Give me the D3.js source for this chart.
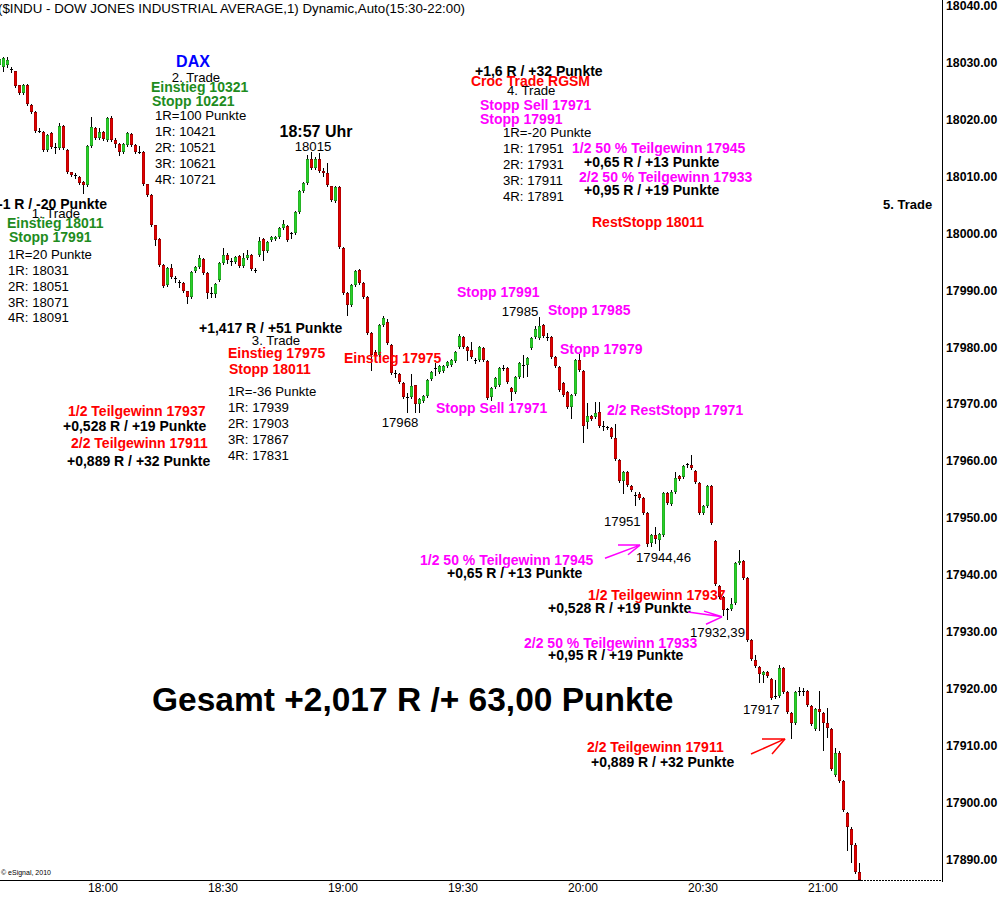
<!DOCTYPE html>
<html><head><meta charset="utf-8">
<script src="https://cdn.jsdelivr.net/npm/d3@7"></script>
<style>
body{margin:0;background:#fff;}
svg{display:block;}
text{font-family:"Liberation Sans",Arial,sans-serif;}
</style>
</head><body>
<svg id="chart" width="1001" height="899"></svg>
<script>
// ---------- DATA ----------
const firstBar = "17:34";           // one bar per minute from here
const opens = [
18029.6,18029.3,18029.6,18028.9,18028.5,18026.1,18024.8,18026.1,18022.6,18021.4,
18018.1,18017.9,18014.7,18017.7,18015.3,18015.0,18018.9,18014.7,18010.8,18010.3,
18010.0,18009.1,18008.5,18015.4,18018.5,18016.8,18017.9,18016.5,18020.3,18016.4,
18015.8,18014.4,18015.6,18017.5,18015.6,18014.4,18014.4,18008.7,18006.8,18001.5,
17999.1,17994.5,17991.0,17994.0,17992.2,17991.5,17991.4,17989.9,17988.9,17993.5,
17994.2,17995.6,17993.1,17989.6,17989.4,17991.9,17994.9,17996.3,17995.2,17995.0,
17996.1,17994.3,17995.7,17996.3,17993.6,17996.3,17999.1,17997.0,17998.9,17999.1,
17999.4,18001.0,18001.4,18000.1,18000.1,18003.8,18007.5,18008.9,18013.1,18011.5,
18013.1,18011.0,18010.6,18008.3,18005.7,18008.2,17997.5,17989.6,17987.5,17991.0,
17993.6,17991.4,17988.9,17982.6,17979.3,17978.7,17984.0,17984.5,17980.5,17975.5,
17975.4,17973.8,17971.3,17971.3,17973.4,17970.1,17970.6,17971.5,17974.5,17976.4,
17975.7,17975.9,17976.8,17977.0,17977.7,17980.1,17981.9,17980.1,17979.6,17977.8,
17977.8,17979.9,17977.6,17971.3,17973.1,17973.4,17976.4,17976.4,17972.9,17972.2,
17974.8,17976.9,17976.9,17979.9,17981.9,17981.7,17984.0,17981.8,17981.8,17978.3,
17976.6,17973.8,17972.2,17969.6,17971.9,17977.8,17975.9,17967.0,17968.0,17967.8,
17968.7,17966.2,17966.0,17965.9,17964.1,17960.2,17956.6,17958.1,17955.7,17954.1,
17954.3,17953.6,17950.9,17945.7,17947.1,17946.2,17947.1,17954.5,17952.6,17954.7,
17957.4,17957.3,17959.5,17959.4,17958.3,17956.2,17950.9,17952.2,17955.7,17946.0,
17938.1,17936.2,17934.1,17934.1,17935.1,17942.2,17942.5,17939.5,17928.6,17925.1,
17923.9,17922.5,17923.0,17921.8,17918.8,17918.8,17923.7,17919.5,17915.8,17914.1,
17919.7,17919.7,17919.7,17917.0,17913.0,17916.5,17915.8,17914.1,17913.0,17904.9,
17908.8,17903.9,17898.3,17895.5,17892.7,17887.9];
const highs = [
18031.0,18031.0,18031.1,18029.3,18028.6,18026.2,18026.3,18026.3,18022.7,18021.5,
18018.6,18018.0,18017.5,18017.9,18015.9,18019.4,18019.1,18014.8,18010.9,18010.6,
18010.1,18009.2,18015.6,18020.5,18018.7,18018.5,18018.1,18020.5,18020.6,18016.8,
18015.9,18016.0,18017.8,18017.7,18015.7,18015.4,18014.5,18008.8,18006.9,18001.6,
17999.2,17994.6,17994.2,17994.7,17992.5,17991.9,17991.5,17990.0,17993.5,17994.4,
17996.3,17995.7,17993.2,17990.6,17991.3,17995.0,17997.5,17996.6,17995.7,17996.1,
17996.3,17996.6,17997.1,17996.5,17994.0,17999.4,17999.2,17998.7,17999.6,17999.6,
18001.2,18002.4,18001.5,18000.3,18004.0,18007.6,18009.0,18013.8,18014.3,18013.5,
18014.1,18011.5,18012.5,18008.4,18008.3,18008.3,17997.6,17989.7,17991.1,17993.7,
17993.8,17991.5,17989.0,17982.7,17979.5,17984.2,17985.6,17985.0,17980.6,17976.1,
17975.6,17973.9,17972.0,17975.4,17973.5,17971.2,17971.7,17974.5,17975.9,17977.3,
17977.0,17977.0,17977.7,17978.0,17979.4,17982.3,17982.1,17980.2,17981.0,17978.1,
17980.3,17980.1,17977.8,17973.1,17974.9,17976.6,17976.9,17976.6,17973.1,17975.0,
17977.5,17978.7,17978.4,17981.9,17983.7,17985.3,17984.2,17982.5,17982.0,17978.5,
17976.8,17974.0,17972.4,17971.9,17978.0,17978.9,17976.1,17970.3,17968.2,17970.4,
17970.4,17967.1,17966.2,17966.1,17966.6,17960.4,17958.3,17958.3,17955.9,17954.6,
17954.6,17953.8,17951.1,17947.3,17948.5,17947.5,17954.7,17954.7,17954.9,17958.1,
17957.6,17959.4,17959.7,17961.1,17958.5,17956.4,17952.4,17955.9,17955.9,17946.2,
17938.3,17936.4,17934.3,17936.0,17942.4,17944.4,17942.7,17939.7,17928.8,17926.0,
17924.0,17923.2,17923.2,17922.0,17921.6,17924.2,17923.9,17919.7,17916.0,17919.7,
17920.4,17920.2,17919.9,17917.2,17916.7,17919.7,17916.0,17916.7,17913.2,17909.7,
17909.2,17904.1,17898.5,17895.7,17892.9,17889.5];
const lows = [
18029.3,18028.6,18029.3,18028.4,18025.7,18024.6,18024.6,18022.6,18021.2,18017.9,
18017.9,18014.5,18014.5,18015.1,18014.2,18014.8,18014.8,18010.6,18010.1,18009.7,
18008.7,18007.1,18008.3,18015.2,18016.6,18016.6,18016.4,18016.3,18016.3,18015.3,
18013.8,18014.2,18015.4,18015.4,18014.2,18014.2,18008.5,18006.6,18001.3,17998.0,
17994.3,17990.6,17990.8,17992.2,17991.6,17990.7,17989.7,17987.8,17988.7,17993.3,
17994.0,17992.9,17988.7,17988.9,17988.9,17991.7,17994.7,17994.9,17994.5,17994.8,
17994.1,17994.1,17995.5,17993.6,17993.3,17996.1,17995.4,17996.8,17998.7,17998.9,
17999.2,18000.8,17998.7,17999.2,17999.9,18003.6,18007.3,18008.7,18011.3,18011.3,
18010.9,18010.1,18008.3,18005.7,18005.5,17997.5,17989.4,17985.7,17987.3,17990.8,
17991.2,17988.7,17982.4,17976.1,17978.4,17978.5,17983.7,17980.6,17975.3,17974.8,
17973.7,17971.1,17968.7,17971.1,17968.7,17968.7,17970.4,17971.3,17974.3,17975.2,
17975.5,17975.7,17976.6,17976.8,17977.5,17979.9,17979.9,17977.8,17978.1,17977.2,
17977.6,17977.6,17970.9,17970.8,17972.9,17973.2,17976.1,17973.7,17970.8,17972.0,
17974.6,17974.8,17975.0,17979.7,17981.7,17981.5,17981.8,17981.3,17978.1,17976.6,
17972.4,17971.5,17969.4,17967.6,17971.7,17975.9,17963.4,17965.9,17967.3,17967.6,
17966.0,17965.5,17965.7,17964.1,17960.2,17956.3,17954.4,17955.7,17954.8,17952.4,
17953.4,17950.7,17945.2,17945.1,17945.7,17944.5,17946.9,17952.5,17952.4,17954.5,
17956.7,17957.1,17959.0,17958.6,17956.2,17950.7,17950.7,17952.0,17949.0,17938.3,
17936.0,17933.0,17932.4,17933.9,17934.9,17942.0,17939.3,17928.4,17925.1,17923.8,
17921.2,17921.2,17922.1,17918.2,17918.4,17918.6,17919.3,17915.8,17911.4,17913.9,
17918.9,17919.0,17917.0,17913.7,17912.8,17912.8,17909.3,17911.6,17905.8,17904.7,
17903.7,17898.6,17891.8,17889.7,17887.7,17886.5];
const closes = [
18030.7,18030.8,18030.6,18028.9,18025.9,18024.8,18026.1,18022.8,18021.4,18018.1,
18018.1,18014.7,18017.3,18015.3,18015.3,18018.9,18015.0,18010.8,18010.3,18010.3,
18008.9,18008.5,18015.4,18018.8,18016.8,18017.9,18016.6,18020.3,18016.5,18015.8,
18014.4,18015.8,18017.7,18015.6,18014.4,18014.4,18008.7,18006.8,18001.5,17998.9,
17994.5,17990.8,17994.0,17992.4,17992.2,17991.5,17989.9,17988.9,17993.3,17994.2,
17995.7,17993.1,17989.6,17989.6,17991.2,17994.9,17996.3,17995.4,17995.2,17995.9,
17994.3,17995.7,17996.3,17993.8,17993.6,17998.7,17997.0,17998.5,17999.4,17999.4,
18001.0,18001.7,17998.9,18000.1,18003.8,18007.5,18008.9,18013.1,18011.5,18013.1,
18011.1,18010.6,18008.5,18005.9,18008.2,17997.7,17989.6,17987.5,17991.0,17993.5,
17991.4,17988.9,17982.6,17978.7,17978.7,17984.0,17985.2,17980.8,17975.5,17975.5,
17973.9,17971.3,17971.3,17973.2,17970.1,17971.0,17971.5,17974.3,17975.7,17976.4,
17976.8,17976.8,17977.5,17977.8,17979.2,17982.0,17980.1,17979.4,17978.3,17977.8,
17980.1,17977.8,17971.1,17972.9,17974.7,17976.4,17976.4,17973.9,17972.2,17974.8,
17977.3,17976.9,17978.2,17981.7,17983.2,17983.7,17982.0,17981.8,17978.3,17976.8,
17972.6,17971.7,17969.6,17971.7,17977.8,17976.1,17966.2,17968.0,17967.5,17968.5,
17966.2,17966.2,17966.0,17964.3,17960.4,17956.6,17958.1,17955.9,17955.0,17954.1,
17953.6,17950.9,17945.5,17947.1,17946.4,17947.3,17954.5,17952.7,17954.7,17957.1,
17956.9,17959.2,17959.5,17958.8,17956.4,17950.9,17952.2,17955.7,17949.2,17938.4,
17936.2,17933.9,17934.1,17935.0,17942.2,17942.5,17939.5,17928.6,17925.3,17924.0,
17922.6,17923.0,17922.3,17918.4,17918.8,17923.7,17919.5,17916.0,17914.1,17919.5,
17919.7,17919.7,17917.2,17913.9,17916.5,17916.0,17914.1,17913.2,17906.0,17908.8,
17903.9,17898.8,17895.8,17892.7,17887.9,17886.5];

const timeTicks  = ["18:00","18:30","19:00","19:30","20:00","20:30","21:00"];
const priceTicks = [18040,18030,18020,18010,18000,17990,17980,17970,17960,17950,17940,17930,17920,17910,17900,17890];
const titleText = "($INDU - DOW JONES INDUSTRIAL AVERAGE,1) Dynamic,Auto(15:30-22:00)";

// annotations: text, time (minutes after 18:00), price, anchor, style
const annotations = [
 ["DAX", 22.5, 18030.3, "middle", "blue"],
 ["2. Trade", 23.25, 18027.4, "middle", "reg"],
 ["Einstieg 10321", 12, 18025.8, "start", "grn"],
 ["Stopp 10221", 12.25, 18023.3, "start", "grn"],
 ["1R=100 Punkte", 13, 18020.85, "start", "reg"],
 ["1R: 10421", 13, 18018.04, "start", "reg"],
 ["2R: 10521", 13, 18015.23, "start", "reg"],
 ["3R: 10621", 13, 18012.42, "start", "reg"],
 ["4R: 10721", 13, 18009.61, "start", "reg"],
 ["18:57 Uhr", 53.25, 18018.04, "middle", "big"],
 ["18015", 52.5, 18015.4, "middle", "reg"],
 ["-1 R / -20 Punkte", -26.25, 18005.2, "start", "blk"],
 ["1. Trade", -11.75, 18003.5, "middle", "reg"],
 ["Einstieg 18011", -24, 18001.9, "start", "grn"],
 ["Stopp 17991", -23.5, 17999.4, "start", "grn"],
 ["1R=20 Punkte", -23.75, 17996.4, "start", "reg"],
 ["1R: 18031", -23.75, 17993.6, "start", "reg"],
 ["2R: 18051", -23.75, 17990.8, "start", "reg"],
 ["3R: 18071", -23.75, 17988.0, "start", "reg"],
 ["4R: 18091", -23.75, 17985.2, "start", "reg"],
 ["+1,417 R / +51 Punkte", 24, 17983.4, "start", "blk"],
 ["3. Trade", 43.25, 17981.3, "middle", "reg"],
 ["Einstieg 17975", 31.25, 17979.05, "start", "red"],
 ["Stopp 18011", 31.5, 17976.2, "start", "red"],
 ["1R=-36 Punkte", 31.25, 17972.2, "start", "reg"],
 ["1R: 17939", 31.25, 17969.4, "start", "reg"],
 ["2R: 17903", 31.25, 17966.6, "start", "reg"],
 ["3R: 17867", 31.25, 17963.8, "start", "reg"],
 ["4R: 17831", 31.25, 17961.0, "start", "reg"],
 ["1/2 Teilgewinn 17937", -8.75, 17968.9, "start", "red"],
 ["+0,528 R / +19 Punkte", -10, 17966.2, "start", "blk"],
 ["2/2 Teilgewinn 17911", -8, 17963.2, "start", "red"],
 ["+0,889 R / +32 Punkte", -9, 17960.1, "start", "blk"],
 ["Einstieg 17975", 60.25, 17978.2, "start", "red"],
 ["17968", 74.25, 17966.75, "middle", "reg"],
 ["Stopp 17991", 88.5, 17989.8, "start", "mag"],
 ["17985", 104.25, 17986.25, "middle", "reg"],
 ["Stopp 17985", 111.25, 17986.6, "start", "mag"],
 ["Stopp 17979", 114.25, 17979.75, "start", "mag"],
 ["Stopp Sell 17971", 83.25, 17969.4, "start", "mag"],
 ["2/2 RestStopp 17971", 126, 17969.0, "start", "mag"],
 ["+1,6 R / +32 Punkte", 93, 18028.6, "start", "blk"],
 ["Croc Trade RGSM", 92, 18026.8, "start", "red"],
 ["4. Trade", 101, 18025.1, "start", "reg"],
 ["Stopp Sell 17971", 94.25, 18022.6, "start", "mag"],
 ["Stopp 17991", 94.25, 18020.15, "start", "mag"],
 ["1R=-20 Punkte", 100, 18017.7, "start", "reg"],
 ["1R: 17951", 100, 18014.9, "start", "reg"],
 ["2R: 17931", 100, 18012.1, "start", "reg"],
 ["3R: 17911", 100, 18009.3, "start", "reg"],
 ["4R: 17891", 100, 18006.45, "start", "reg"],
 ["1/2 50 % Teilgewinn 17945", 117.25, 18015.05, "start", "mag"],
 ["+0,65 R / +13 Punkte", 120.25, 18012.6, "start", "blk"],
 ["2/2 50 % Teilgewinn 17933", 119, 18009.96, "start", "mag"],
 ["+0,95 R / +19 Punkte", 120.25, 18007.7, "start", "blk"],
 ["RestStopp 18011", 122.25, 18002.05, "start", "red"],
 ["5. Trade", 195, 18005.2, "start", "blk13"],
 ["17951", 125.25, 17949.5, "start", "reg"],
 ["17944,46", 133.25, 17943.2, "start", "reg"],
 ["1/2 50 % Teilgewinn 17945", 79.25, 17942.7, "start", "mag"],
 ["+0,65 R / +13 Punkte", 86, 17940.4, "start", "blk"],
 ["1/2 Teilgewinn 17937", 121.25, 17936.55, "start", "red"],
 ["+0,528 R / +19 Punkte", 111.25, 17934.3, "start", "blk"],
 ["17932,39", 146.75, 17929.9, "start", "reg"],
 ["2/2 50 % Teilgewinn 17933", 105.25, 17928.1, "start", "mag"],
 ["+0,95 R / +19 Punkte", 111.25, 17926.0, "start", "blk"],
 ["Gesamt +2,017 R /+ 63,00 Punkte", 12.25, 17918.1, "start", "huge"],
 ["17917", 160, 17916.4, "start", "reg"],
 ["2/2 Teilgewinn 17911", 121, 17909.8, "start", "red"],
 ["+0,889 R / +32 Punkte", 122, 17907.2, "start", "blk"]
];
// arrows: colour, then [time, price] points: tail, tip, head1, tip, head2
const arrows = [
 ["#ff00ff", [[125.5,17943.0],[134.25,17945.3],[128.75,17945.3]], [[134.25,17945.3],[131.25,17943.6]]],
 ["#ff00ff", [[146.25,17933.55],[154.75,17932.7],[150.25,17933.7]], [[154.75,17932.7],[150.75,17931.4]]],
 ["#ff0000", [[162,17908.6],[170.5,17911.25],[164.75,17911.25]], [[170.5,17911.25],[167.25,17908.6]]]
];

// ---------- STYLES ----------
const styles = {
  reg:  {size:13.2, weight:"normal", fill:"#000"},
  blk:  {size:14, weight:"bold", fill:"#000"},
  blk13:{size:13, weight:"bold", fill:"#000"},
  red:  {size:14, weight:"bold", fill:"#ff0000"},
  mag:  {size:14, weight:"bold", fill:"#ff00ff"},
  grn:  {size:14, weight:"bold", fill:"#1e8c1e"},
  blue: {size:16, weight:"bold", fill:"#0000ff"},
  big:  {size:16, weight:"bold", fill:"#000"},
  huge: {size:33.5, weight:"bold", fill:"#000"}
};

// ---------- SCALES ----------
const svg = d3.select("#chart");
const parseHM = s => { const [h,m] = s.split(":").map(Number); return h*60+m; };
const t0 = parseHM("18:00");
const x = d3.scaleLinear().domain([t0, t0+180]).range([103, 823]);
const y = d3.scaleLinear().domain([17890, 18040]).range([859.9, 6]);
const startT = parseHM(firstBar);
const bars = opens.map((o,i)=>({t:startT+i, o, h:highs[i], l:lows[i], c:closes[i]}));

const plotRight = 942;
const plot = svg.append("g");
plot.append("defs").append("clipPath").attr("id","clip")
  .append("rect").attr("x",0).attr("y",0).attr("width",plotRight).attr("height",882);
const cg = plot.append("g").attr("clip-path","url(#clip)");

const bx = d => Math.round(x(d.t));
const bTop = d => Math.round(y(Math.max(d.o,d.c)));
const bBot = d => Math.round(y(Math.min(d.o,d.c)));
// wicks
cg.selectAll("line.wick").data(bars).join("line").attr("class","wick")
  .attr("x1",d=>bx(d)+0.5).attr("x2",d=>bx(d)+0.5)
  .attr("y1",d=>Math.round(y(d.h))).attr("y2",d=>Math.round(y(d.l))+1)
  .attr("stroke","#000").attr("stroke-width",1);
// bodies: dark frame with coloured core
cg.selectAll("rect.body").data(bars).join("rect").attr("class","body")
  .attr("x",d=>bx(d)-1).attr("width",3)
  .attr("y",d=>bTop(d))
  .attr("height",d=>Math.max(1, bBot(d)-bTop(d)))
  .attr("fill",d=>d.c>d.o?"#1f8a1f":(d.c<d.o?"#8a0000":"#000"));
cg.selectAll("rect.fillc").data(bars.filter(d=>d.o!==d.c && bBot(d)-bTop(d)>2)).join("rect").attr("class","fillc")
  .attr("x",d=>bx(d)-0.6).attr("width",2.2)
  .attr("y",d=>bTop(d)+1)
  .attr("height",d=>bBot(d)-bTop(d)-2)
  .attr("fill",d=>d.c>d.o?"#28d028":"#e00000");

// bottom line and last-price dotted line
const last = bars[bars.length-1];
svg.append("line").attr("x1",0).attr("x2",bx(last)+2)
  .attr("y1",Math.round(y(last.c))+0.5).attr("y2",Math.round(y(last.c))+0.5)
  .attr("stroke","#000");
svg.append("line").attr("x1",bx(last)+2).attr("x2",plotRight)
  .attr("y1",Math.round(y(last.c))+0.5).attr("y2",Math.round(y(last.c))+0.5)
  .attr("stroke","#000").attr("stroke-dasharray","2,1");

// right axis
svg.append("line").attr("x1",plotRight+0.5).attr("x2",plotRight+0.5).attr("y1",0).attr("y2",882)
  .attr("stroke","#000");
svg.selectAll("text.py").data(priceTicks).join("text").attr("class","py")
  .attr("x",946).attr("y",d=>y(d)).attr("dominant-baseline","central")
  .attr("font-size",12.3).attr("font-weight","bold").attr("fill","#000")
  .text(d=>d3.format(".2f")(d));

// time axis labels
svg.selectAll("text.tx").data(timeTicks).join("text").attr("class","tx")
  .attr("x",d=>x(parseHM(d))).attr("y",888).attr("dominant-baseline","central")
  .attr("text-anchor","middle").attr("font-size",12).attr("fill","#000")
  .text(d=>d);

// title
svg.append("text").attr("x",-2).attr("y",8).attr("dominant-baseline","central")
  .attr("font-size",13.3).attr("fill","#000").text(titleText);
// copyright
svg.append("text").attr("x",1).attr("y",872).attr("dominant-baseline","central")
  .attr("font-size",7).attr("fill","#000").text("\u00a9 eSignal, 2010");

// annotations
svg.selectAll("text.ann").data(annotations).join("text").attr("class","ann")
  .attr("x",d=>x(t0+d[1])).attr("y",d=>y(d[2]))
  .attr("dominant-baseline","central").attr("text-anchor",d=>d[3])
  .attr("font-size",d=>styles[d[4]].size).attr("font-weight",d=>styles[d[4]].weight)
  .attr("fill",d=>styles[d[4]].fill).text(d=>d[0]);

// arrows
const lineGen = d3.line().x(p=>x(t0+p[0])).y(p=>y(p[1]));
arrows.forEach(a=>{
  svg.append("path").attr("d",lineGen(a[1])).attr("fill","none").attr("stroke",a[0]).attr("stroke-width",1.5);
  svg.append("path").attr("d",lineGen(a[2])).attr("fill","none").attr("stroke",a[0]).attr("stroke-width",1.5);
});
</script>
</body></html>
